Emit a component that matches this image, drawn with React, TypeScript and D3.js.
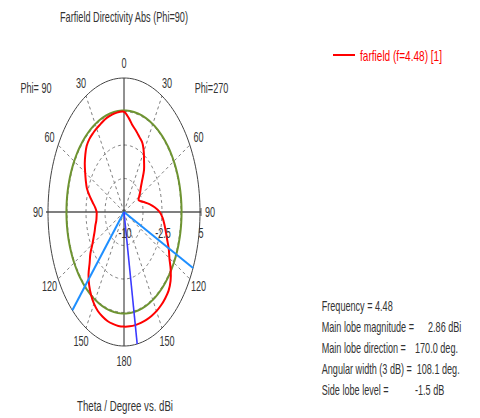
import React from "react";
import * as d3 from "d3";

// Polar cut: theta in degrees, directivity in dBi
const thetaDeg = [
  0, 5, 10, 15, 20, 25, 30, 35, 40, 45, 50, 55, 60, 65, 70, 75, 80, 85, 90,
  95, 100, 105, 110, 115, 120, 125, 130, 135, 140, 145, 150, 155, 160, 165,
  170, 175, 180,
];
// Phi=270 half (drawn on the right)
const dirPhi270 = [
  1.22, 0.58, -0.18, -0.63, -1.08, -1.45, -2.2, -3.1, -3.85, -4.9, -5.65,
  -6.1, -6.55, -6.82, -6.48, -5.8, -4.9, -3.93, -2.95, -2.35, -1.9, -1.45,
  -0.93, -0.25, 0.35, 1.25, 2.0, 2.45, 2.63, 2.75, 2.82, 2.84, 2.85, 2.85,
  2.86, 2.85, 2.83,
];
// Phi=90 half (drawn on the left)
const dirPhi90 = [
  1.22, 1.24, 1.18, 1.1, 1.03, 0.88, 0.8, 0.73, 0.65, 0.43, -0.03, -0.55,
  -1.15, -1.68, -2.2, -2.95, -3.7, -4.3, -4.6, -4.57, -4.45, -4.15, -3.85,
  -3.4, -2.8, -1.9, -1.15, -0.1, 0.7, 1.33, 1.85, 2.23, 2.45, 2.63, 2.72,
  2.8, 2.83,
];

const mainLobeMagnitude = 2.86;
const mainLobeTheta = 170; // Phi=270 half
const sideLobeLevel = -1.5;
const beamEdgeRight = 114.7; // Phi=270 half
const beamEdgeLeft = 137.2; // Phi=90 half

const dbDomain = [-10, 5];
const dbGridRings = [-6.25, -2.5, 1.25];
const dbTickValues = [-10, -2.5, 5];
const dbTickLabels = ["-10", "-2.5", "5"];
const angleTicks = [0, 30, 60, 90, 120, 150, 180];
const spokeAngles = [30, 60, 120, 150];

const infoLabels = [
  "Frequency = 4.48",
  "Main lobe magnitude =",
  "Main lobe direction =",
  "Angular width (3 dB) =",
  "Side lobe level =",
];
const infoValues = ["", "2.86 dBi", "170.0 deg.", "108.1 deg.", "-1.5 dB"];

const W = 480;
const H = 418;
const cx = 124;
const cy = 212;
const rx = 76;
const ry = 134;
const SX = 0.65;
const FONT = "'Liberation Sans', Arial, sans-serif";
const TXT = "#333";

const rScale = d3.scaleLinear().domain(dbDomain).range([0, 1]).clamp(true);

// a: degrees clockwise from the top of the plot
function pt(a: number, frac: number): [number, number] {
  const t = (a * Math.PI) / 180;
  return [cx + rx * frac * Math.sin(t), cy - ry * frac * Math.cos(t)];
}

function Txt(props: {
  x: number;
  y: number;
  text: string;
  size?: number;
  anchor?: "start" | "middle" | "end";
  fill?: string;
  len?: number;
  central?: boolean;
}) {
  const { x, y, text, size = 14, anchor = "start", fill = TXT, len, central } = props;
  return (
    <text
      transform={`translate(${x},${y}) scale(${SX},1)`}
      textAnchor={anchor}
      dominantBaseline={central ? "central" : undefined}
      fontFamily={FONT}
      fontSize={size}
      fill={fill}
      textLength={len ? len / SX : undefined}
      lengthAdjust={len ? "spacingAndGlyphs" : undefined}
      style={{ whiteSpace: "pre" }}
    >
      {text}
    </text>
  );
}

export default function App() {
  const ellipse = (frac: number) => {
    const pts = d3.range(0, 361, 2).map((a) => pt(a, frac));
    return d3.line()(pts as [number, number][]) as string;
  };

  // closed directivity contour: right half top->bottom, left half bottom->top
  const contour: [number, number][] = [
    ...thetaDeg.map((t, i) => pt(t, rScale(dirPhi270[i]))),
    ...thetaDeg
      .slice(1, -1)
      .reverse()
      .map((t) => {
        const i = thetaDeg.indexOf(t);
        return pt(360 - t, rScale(dirPhi90[i]));
      }),
  ];
  const contourPath = d3.line().curve(d3.curveCatmullRomClosed.alpha(0.5))(contour) as string;

  const sideLobeFrac = rScale(mainLobeMagnitude + sideLobeLevel);

  const labelPos = (a: number) => {
    const t = (a * Math.PI) / 180;
    return [cx + (rx + 10) * Math.sin(t), cy - (ry + 15) * Math.cos(t)];
  };

  const angleLabels: { a: number; text: string }[] = [];
  angleTicks.forEach((t) => {
    angleLabels.push({ a: t, text: String(t) });
    if (t !== 0 && t !== 180) angleLabels.push({ a: 360 - t, text: String(t) });
  });

  const [mx, my] = pt(mainLobeTheta, 1);
  const [b1x, b1y] = pt(beamEdgeRight, 1);
  const [b2x, b2y] = pt(360 - beamEdgeLeft, 1);

  return (
    <svg
      width={W}
      height={H}
      style={{ position: "absolute", left: 0, top: 0, background: "#fff" }}
    >
      <rect x={0} y={0} width={W} height={H} fill="#fff" />

      {/* dashed grid */}
      {dbGridRings.map((d) => (
        <path key={d} d={ellipse(rScale(d))} fill="none" stroke="#808080" strokeWidth={1} strokeDasharray="3,3" />
      ))}
      {spokeAngles.flatMap((a) => [a, 360 - a]).map((a) => {
        const [x2, y2] = pt(a, 1);
        return <line key={a} x1={cx} y1={cy} x2={x2} y2={y2} stroke="#808080" strokeWidth={1} strokeDasharray="3,3" />;
      })}

      {/* axes */}
      <line x1={cx} y1={cy - ry} x2={cx} y2={cy + ry} stroke="#222" strokeWidth={1} />
      <line x1={cx - rx - 2} y1={cy} x2={cx + rx + 1} y2={cy} stroke="#555" strokeWidth={1.3} />
      <line x1={cx + rx + 1} y1={cy - 4} x2={cx + rx + 1} y2={cy + 4} stroke="#555" strokeWidth={1} />
      <path d={ellipse(1)} fill="none" stroke="#444" strokeWidth={1} />

      {/* side lobe level ring */}
      <path d={ellipse(sideLobeFrac)} fill="none" stroke="#6e9431" strokeWidth={2} />

      {/* directivity */}
      <path d={contourPath} fill="none" stroke="#ff0000" strokeWidth={2} />

      {/* beam markers */}
      <line x1={cx} y1={cy} x2={b1x} y2={b1y} stroke="#1e8fff" strokeWidth={2} />
      <line x1={cx} y1={cy} x2={b2x} y2={b2y} stroke="#1e8fff" strokeWidth={2} />
      <line x1={cx} y1={cy} x2={mx} y2={my} stroke="#3a3aff" strokeWidth={1.6} />

      {/* angle labels */}
      {angleLabels.map((l) => {
        const [x, y] = labelPos(l.a);
        return <Txt key={l.a} x={x} y={y} text={l.text} anchor="middle" central />;
      })}

      {/* radial labels */}
      {dbTickValues.map((v, i) => (
        <Txt key={v} x={cx + rx * rScale(v) + 1} y={cy + 21} text={dbTickLabels[i]} anchor="middle" central />
      ))}

      <Txt x={36} y={88} text="Phi= 90" anchor="middle" central />
      <Txt x={211.5} y={88} text="Phi=270" anchor="middle" central />

      <Txt x={124} y={22} text="Farfield Directivity Abs (Phi=90)" anchor="middle" len={128} />
      <Txt x={125} y={411} text="Theta / Degree vs. dBi" anchor="middle" len={96} />

      {/* legend */}
      <line x1={333} y1={55} x2={355} y2={55} stroke="#ff0000" strokeWidth={2} />
      <Txt x={360} y={61} text="farfield (f=4.48) [1]" fill="#ff0000" len={82} />

      {/* summary */}
      {infoLabels.map((s, i) => (
        <Txt key={s} x={321.7} y={311 + i * 21} text={s} />
      ))}
      {infoValues.map((s, i) =>
        s ? <Txt key={s} x={[0, 428, 415, 416.7, 415][i]} y={311 + i * 21} text={s} /> : null
      )}
    </svg>
  );
}
